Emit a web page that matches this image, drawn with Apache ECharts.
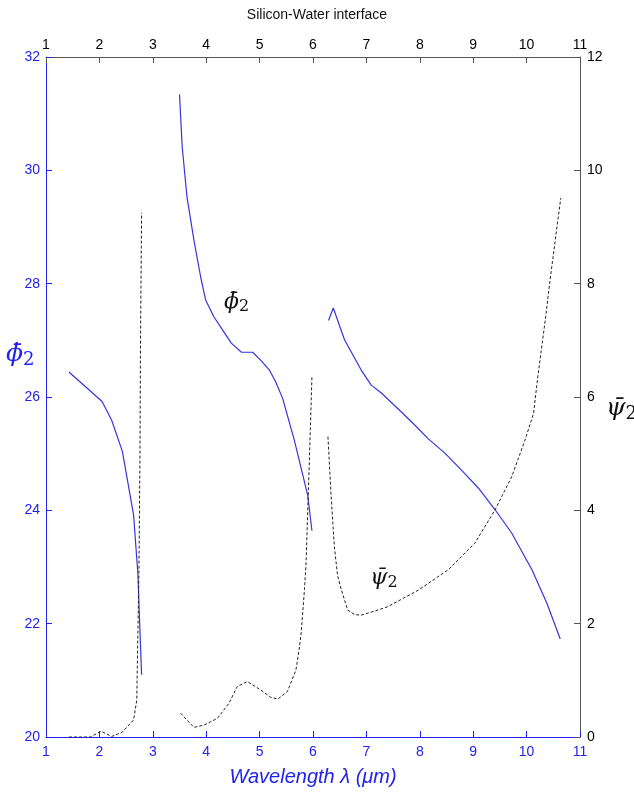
<!DOCTYPE html>
<html>
<head>
<meta charset="utf-8">
<script src="https://cdn.jsdelivr.net/npm/echarts@6/dist/echarts.min.js"></script>
<style>html,body{margin:0;padding:0;background:#fff}#c{width:634px;height:792px}</style>
</head>
<body>
<div id="c"></div>
<script>
// phi_2 (left axis) segments
var phiX1 = [1.43, 2.05, 2.23, 2.43, 2.64, 2.72, 2.79];
var phiY1 = [26.44, 25.92, 25.59, 25.04, 23.92, 22.89, 21.10];
var phiX2 = [3.50, 3.55, 3.64, 3.77, 3.90, 3.99, 4.14, 4.33, 4.47, 4.66, 4.87, 5.02, 5.18, 5.30, 5.43, 5.65, 5.90, 5.98];
var phiY2 = [31.34, 30.42, 29.53, 28.77, 28.10, 27.71, 27.42, 27.15, 26.95, 26.79, 26.79, 26.65, 26.48, 26.27, 25.98, 25.24, 24.27, 23.64];
var phiX3 = [6.29, 6.38, 6.59, 6.90, 7.09, 7.28, 7.65, 7.90, 8.15, 8.47, 8.78, 9.10, 9.41, 9.72, 10.10, 10.38, 10.63];
var phiY3 = [27.35, 27.57, 27.01, 26.48, 26.21, 26.07, 25.74, 25.51, 25.27, 25.01, 24.71, 24.39, 24.01, 23.60, 22.95, 22.36, 21.73];
// psi_2 (right axis) segments
var psiX1 = [1.43, 1.83, 2.03, 2.23, 2.42, 2.64, 2.70, 2.72, 2.74, 2.76, 2.77, 2.79];
var psiY1 = [0.00, 0.00, 0.10, 0.01, 0.08, 0.30, 0.65, 1.80, 2.90, 5.00, 7.00, 9.25];
var psiX2 = [3.52, 3.77, 3.96, 4.21, 4.43, 4.58, 4.77, 5.02, 5.21, 5.34, 5.52, 5.68, 5.74, 5.78, 5.84, 5.87, 5.91, 5.95, 5.98];
var psiY2 = [0.42, 0.17, 0.21, 0.33, 0.60, 0.89, 0.98, 0.83, 0.70, 0.67, 0.80, 1.18, 1.54, 1.85, 2.60, 3.07, 4.24, 5.42, 6.36];
var psiX3 = [6.28, 6.34, 6.40, 6.46, 6.53, 6.65, 6.78, 6.90, 7.15, 7.40, 7.97, 8.53, 9.03, 9.41, 9.72, 9.97, 10.13, 10.21, 10.35, 10.44, 10.64];
var psiY3 = [5.30, 4.24, 3.36, 2.85, 2.60, 2.24, 2.16, 2.15, 2.22, 2.30, 2.59, 2.95, 3.42, 4.01, 4.59, 5.24, 5.71, 6.36, 7.36, 8.07, 9.51];
var xTicks = [1, 2, 3, 4, 5, 6, 7, 8, 9, 10, 11];
var leftTicks = [20, 22, 24, 26, 28, 30, 32];
var rightTicks = [0, 2, 4, 6, 8, 10, 12];

function pairs(xs, ys) { return xs.map(function (x, i) { return [x, ys[i]]; }); }

var BLUE = '#2222ee';
var LINEBLUE = '#3535dd';
var SANS = 'Liberation Sans, Arial, sans-serif';
var SERIF = 'DejaVu Serif, serif';

var mathRich = function (color, size) {
  return {
    v: { fontFamily: SERIF, fontStyle: 'italic', fontSize: size, color: color, fill: color },
    s: { fontFamily: SERIF, fontSize: Math.round(size * 0.72), color: color, fill: color, padding: [Math.round(size * 0.45), 0, 0, 0] }
  };
};

var chart = echarts.init(document.getElementById('c'));
var blueLine = { color: LINEBLUE, width: 1.2 };
var dashLine = { color: '#222', width: 1, type: [3, 2] };

function mk(name, xs, ys, yIdx, style, mark) {
  var s = {
    type: 'line', name: name, data: pairs(xs, ys), yAxisIndex: yIdx, xAxisIndex: 0,
    showSymbol: false, symbol: 'none', lineStyle: style, animation: false, z: 3
  };
  if (mark) s.markPoint = mark;
  return s;
}

var option = {
  animation: false,
  title: {
    text: 'Silicon-Water interface', left: 312, top: 3, textAlign: 'center',
    textStyle: { fontFamily: SANS, fontSize: 14, fontWeight: 'normal', color: '#111' }
  },
  grid: { left: 46, right: 54, top: 57, bottom: 55 },
  xAxis: [
    {
      type: 'value', position: 'bottom', min: 1, max: 11, interval: 1,
      axisLine: { lineStyle: { color: BLUE, width: 1 } },
      axisTick: { inside: true, length: 6, lineStyle: { color: BLUE } },
      axisLabel: { color: BLUE, fontFamily: SANS, fontSize: 14, margin: 8 },
      splitLine: { show: false },
      name: 'Wavelength λ (μm)', nameLocation: 'middle', nameGap: 30,
      nameTextStyle: { color: BLUE, fontFamily: SANS, fontStyle: 'italic', fontSize: 20 }
    },
    {
      type: 'value', position: 'top', min: 1, max: 11, interval: 1,
      axisLine: { lineStyle: { color: '#555', width: 1 } },
      axisTick: { inside: true, length: 6, lineStyle: { color: '#555' } },
      axisLabel: { color: '#000', fontFamily: SANS, fontSize: 14, margin: 5 },
      splitLine: { show: false }
    }
  ],
  yAxis: [
    {
      type: 'value', position: 'left', min: 20, max: 32, interval: 2,
      axisLine: { show: true, lineStyle: { color: BLUE, width: 1 } },
      axisTick: { show: true, inside: true, length: 6, lineStyle: { color: BLUE } },
      axisLabel: { color: BLUE, fontFamily: SANS, fontSize: 14, margin: 6 },
      splitLine: { show: false }
    },
    {
      type: 'value', position: 'right', min: 0, max: 12, interval: 2,
      axisLine: { show: true, lineStyle: { color: '#555', width: 1 } },
      axisTick: { show: true, inside: true, length: 6, lineStyle: { color: '#555' } },
      axisLabel: { color: '#000', fontFamily: SANS, fontSize: 14, margin: 7 },
      splitLine: { show: false }
    }
  ],
  graphic: [
    {
      type: 'text', left: 6, top: 342, z: 10,
      style: { text: '{v|ϕ̄}{s|2}', fill: BLUE, rich: mathRich(BLUE, 25) }
    },
    {
      type: 'text', left: 606, top: 396, z: 10,
      style: { text: '{v|ψ̄}{s|2}', fill: '#111', rich: mathRich('#111', 25) }
    }
  ],
  series: [
    mk('phi1', phiX1, phiY1, 0, blueLine),
    mk('phi2', phiX2, phiY2, 0, blueLine, {
      symbol: 'rect', symbolSize: 0, silent: true,
      data: [{ coord: [4.57, 27.68], label: { show: true, position: 'inside', formatter: '{v|ϕ̄}{s|2}', rich: mathRich('#111', 22) } }]
    }),
    mk('phi3', phiX3, phiY3, 0, blueLine),
    mk('psi1', psiX1, psiY1, 1, dashLine),
    mk('psi2', psiX2, psiY2, 1, dashLine),
    mk('psi3', psiX3, psiY3, 1, dashLine, {
      symbol: 'rect', symbolSize: 0, silent: true,
      data: [{ coord: [7.33, 2.8], label: { show: true, position: 'inside', formatter: '{v|ψ̄}{s|2}', rich: mathRich('#111', 22) } }]
    })
  ]
};
chart.setOption(option);
</script>
</body>
</html>
